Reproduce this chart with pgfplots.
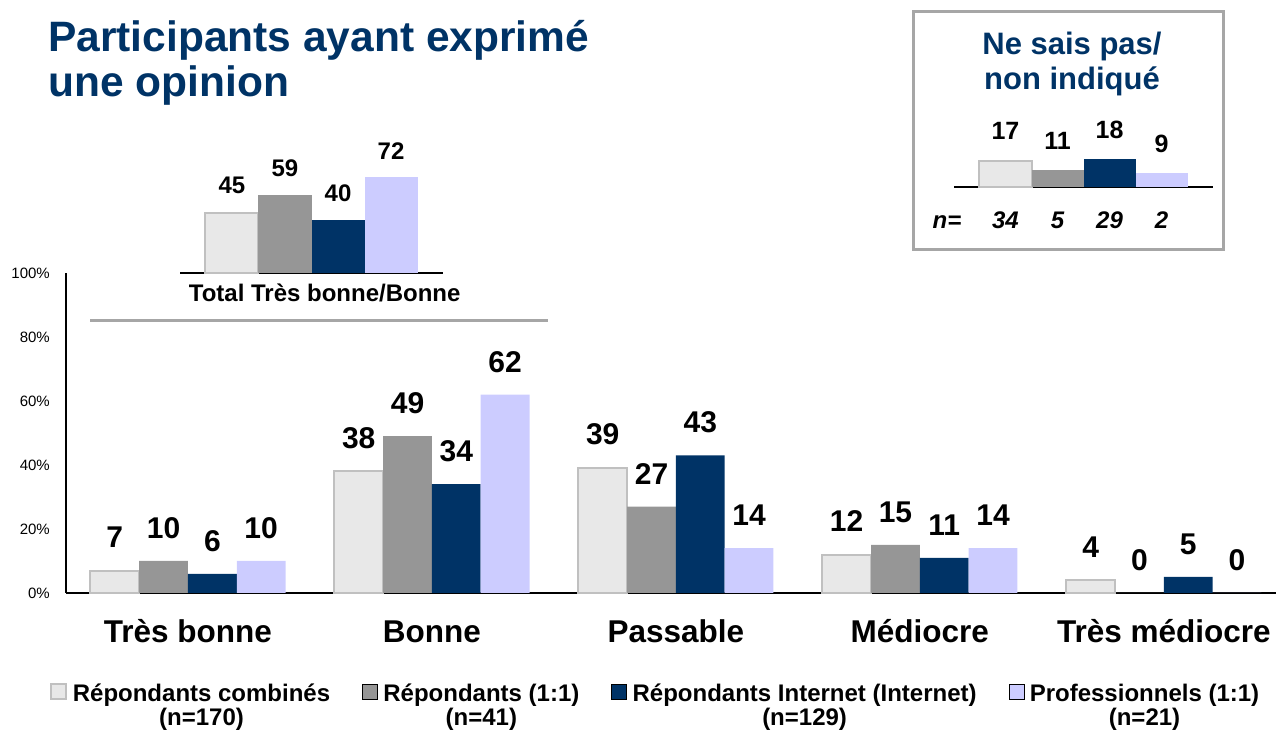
\documentclass[border=0pt]{standalone}
\usepackage{pgfplots}
\pgfplotsset{compat=1.18}
\usepackage{fontspec}
\setmainfont{Liberation Sans}
\definecolor{cA}{HTML}{E8E8E8}
\definecolor{cAb}{HTML}{C0C0C0}
\definecolor{cB}{HTML}{969696}
\definecolor{cC}{HTML}{003366}
\definecolor{cD}{HTML}{CCCCFF}
\definecolor{navy}{HTML}{003366}
\definecolor{sep}{HTML}{A6A6A6}
\newcommand\fs[1]{\fontsize{#1}{#1}\selectfont}
\pgfplotsset{
  sq legend/.style={legend image code/.code={\draw[##1] (0pt,6pt) rectangle (15pt,21pt);\path (19pt,13pt);}},
  sA/.style={fill=cA, draw=cAb, line width=2pt, sq legend},
  sB/.style={fill=cB, draw=none, sq legend},
  sC/.style={fill=cC, draw=none, sq legend},
  sD/.style={fill=cD, draw=none, sq legend},
}
\begin{document}
\begin{tikzpicture}
\useasboundingbox (0,0) rectangle (1276pt,735pt);
% title
\node[anchor=base west, inner sep=0pt, font=\fs{42.5}\bfseries, text=navy] at (48pt,683pt) {Participants ayant exprimé};
\node[anchor=base west, inner sep=0pt, font=\fs{42.5}\bfseries, text=navy] at (48pt,638pt) {une opinion};
% separator
\draw[sep, line width=3pt] (90pt,414pt) -- (548pt,414pt);
% NSP box
\draw[sep, line width=3pt] (913pt,723pt) rectangle (1223pt,485pt);
\node[anchor=base, inner sep=0pt, font=\fs{31}\bfseries, text=navy] at (1072pt,680pt) {Ne sais pas/};
\node[anchor=base, inner sep=0pt, font=\fs{31}\bfseries, text=navy] at (1072pt,645pt) {non indiqué};
\node[anchor=base, inner sep=0pt, font=\fs{24}\bfseries\itshape] at (947pt,506pt) {n=};

% main axis
\begin{axis}[
  at={(66pt,142pt)}, anchor=south west, scale only axis,
  width=1210pt, height=320pt,
  xmin=-0.5, xmax=4.46, ymin=0, ymax=100,
  ybar=0pt, bar width=0.2,
  axis lines=left, axis line style={-, line width=2pt, black},
  xtick={0,1,2,3,4},
  xticklabels={Très bonne, Bonne, Passable, Médiocre, Très médiocre},
  xticklabel style={font=\fs{31.5}\bfseries, anchor=base, yshift=-50pt, inner sep=0pt},
  ytick={0,20,40,60,80,100},
  yticklabel={\pgfmathprintnumber{\tick}\%},
  yticklabel style={font=\fs{15}, anchor=east, inner sep=0pt, xshift=-16pt},
  /pgf/number format/assume math mode=true,
  major tick length=0pt, tick style={draw=none},
  nodes near coords,
  every node near coord/.append style={font=\fs{30}\bfseries, anchor=south, inner sep=0pt, yshift=22pt, text=black},
  clip=false,
  legend columns=4,
  legend style={at={(-0.016,-0.27)}, anchor=north west, draw=none, fill=none,
    font=\fs{24}\bfseries, cells={align=center},
    /tikz/every even column/.append style={column sep=30pt}},
]
\addplot[sA] coordinates {(0,7) (1,38) (2,39) (3,12) (4,4)};
\addlegendentry{Répondants combinés\\(n=170)}
\addplot[sB] coordinates {(0,10) (1,49) (2,27) (3,15) (4,0)};
\addlegendentry{Répondants (1:1)\\(n=41)}
\addplot[sC] coordinates {(0,6) (1,34) (2,43) (3,11) (4,5)};
\addlegendentry{Répondants Internet (Internet)\\(n=129)}
\addplot[sD] coordinates {(0,10) (1,62) (2,14) (3,14) (4,0)};
\addlegendentry{Professionnels (1:1)\\(n=21)}
\end{axis}

% total inset
\begin{axis}[
  at={(180pt,462pt)}, anchor=south west, scale only axis,
  width=263pt, height=133pt,
  xmin=-2.48, xmax=2.48, ymin=0, ymax=100,
  ybar=0pt, bar width=1,
  axis x line=bottom, axis y line=none,
  axis line style={-, line width=2pt, black},
  xtick=\empty, ytick=\empty,
  xlabel={Total Très bonne/Bonne},
  xlabel style={at={(axis description cs:0.55,0)}, anchor=base, yshift=-29pt, font=\fs{24}\bfseries, inner sep=0pt},
  /pgf/number format/assume math mode=true,
  nodes near coords,
  every node near coord/.append style={font=\fs{24}\bfseries, anchor=south, inner sep=0pt, yshift=18pt, text=black},
  clip=false,
]
\addplot[sA] coordinates {(0,45)};
\addplot[sB] coordinates {(0,59)};
\addplot[sC] coordinates {(0,40)};
\addplot[sD] coordinates {(0,72)};
\end{axis}

% NSP inset
\begin{axis}[
  at={(954pt,548pt)}, anchor=south west, scale only axis,
  width=259pt, height=155pt,
  xmin=-2.49, xmax=2.49, ymin=0, ymax=100,
  ybar=0pt, bar width=1,
  axis x line=bottom, axis y line=none,
  axis line style={-, line width=2pt, black},
  xtick={-1.5,-0.5,0.5,1.5}, xticklabels={34,5,29,2},
  xticklabel style={font=\fs{24}\bfseries\itshape, anchor=base, yshift=-42pt, inner sep=0pt},
  major tick length=0pt, tick style={draw=none},
  ytick=\empty,
  /pgf/number format/assume math mode=true,
  nodes near coords,
  every node near coord/.append style={font=\fs{25}\bfseries, anchor=south, inner sep=0pt, yshift=20pt, text=black},
  clip=false,
]
\addplot[sA] coordinates {(0,17)};
\addplot[sB] coordinates {(0,11)};
\addplot[sC] coordinates {(0,18)};
\addplot[sD] coordinates {(0,9)};
\end{axis}
\end{tikzpicture}
\end{document}
